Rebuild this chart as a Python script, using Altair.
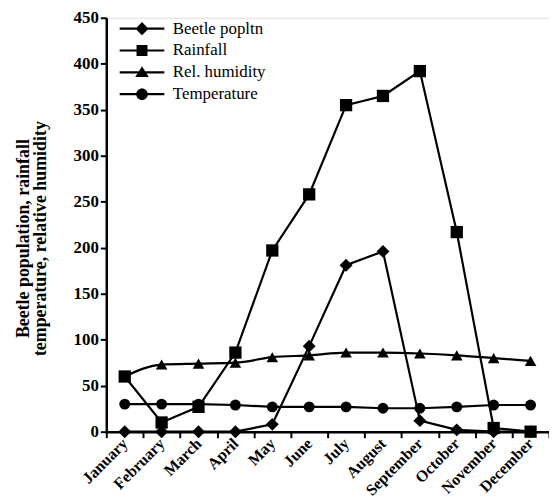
import altair as alt
import pandas as pd

months = ["January", "February", "March", "April", "May", "June", "July",
          "August", "September", "October", "November", "December"]
beetle = [0, 0, 0, 0, 8, 93, 181, 196, 12, 2, 0, 0]
rainfall = [60, 10, 27, 86, 197, 258, 355, 365, 392, 217, 4, 0]
humidity = [60, 73, 74, 75, 81, 83, 86, 86, 85, 83, 80, 77]
temperature = [30, 30, 30, 29, 27, 27, 27, 25.5, 25.5, 27, 29, 29]

series = ["Beetle popltn", "Rainfall", "Rel. humidity", "Temperature"]
values = {"Beetle popltn": beetle, "Rainfall": rainfall,
          "Rel. humidity": humidity, "Temperature": temperature}
draw_order = ["Beetle popltn", "Rel. humidity", "Temperature", "Rainfall"]

rows = []
for s in draw_order:
    for m, v in zip(months, values[s]):
        rows.append({"month": m, "value": v, "series": s})
df = pd.DataFrame(rows)

SERIF = "'Liberation Serif', 'Times New Roman', Times, serif"

x_enc = alt.X("month:N", sort=months, bandPosition=0.5,
              scale=alt.Scale(type="band", paddingInner=0, paddingOuter=0),
              axis=alt.Axis(title=None, labelAngle=-45, labelAlign="right",
                            labelBaseline="middle", labelFont=SERIF,
                            labelFontWeight="bold", labelFontSize=16,
                            labelColor="black", tickBand="extent",
                            domainColor="black", domainWidth=2.5,
                            tickColor="black", tickWidth=2, tickSize=6,
                            labelPadding=3, grid=False))
y_enc = alt.Y("value:Q", scale=alt.Scale(domain=[0, 450], nice=False, zero=True),
              axis=alt.Axis(title=["Beetle population, rainfall",
                                   "temperature, relative humidity"],
                            values=list(range(0, 451, 50)),
                            labelFont=SERIF, labelFontWeight="bold",
                            labelFontSize=17, labelColor="black",
                            titleFont=SERIF, titleFontWeight="bold",
                            titleFontSize=18, titleColor="black",
                            titleLineHeight=17, titlePadding=24,
                            titleY=222,
                            domainColor="black", domainWidth=2.5,
                            tickColor="black", tickWidth=2, tickSize=6,
                            labelPadding=2, grid=False))

base = alt.Chart(df)

lines_linear = base.transform_filter(
    alt.datum.series != "Rel. humidity"
).mark_line(color="black", strokeWidth=2.2).encode(
    x=x_enc, y=y_enc, detail="series:N")

lines_smooth = base.transform_filter(
    alt.datum.series == "Rel. humidity"
).mark_line(color="black", strokeWidth=2.2, interpolate="monotone").encode(
    x=x_enc, y=y_enc, detail="series:N")

points = base.mark_point(filled=True, color="black", opacity=1).encode(
    x=x_enc, y=y_enc,
    shape=alt.Shape("series:N", legend=None,
                    scale=alt.Scale(domain=series,
                                    range=["diamond", "square", "triangle-up", "circle"])),
    size=alt.Size("series:N", legend=None,
                  scale=alt.Scale(domain=series, range=[169, 121, 169, 113])),
)

# legend symbols: a filled bar (the line) plus the marker, both clockwise
BAR = "M-2.25,-0.11H2.25V0.11H-2.25Z"
legend_paths = [
    BAR + "M0,-0.66L0.66,0L0,0.66L-0.66,0Z",
    BAR + "M-0.55,-0.55H0.55V0.55H-0.55Z",
    BAR + "M0,-0.62L0.68,0.48H-0.68Z",
    BAR + "M0.58,0A0.58,0.58 0 1,1 -0.58,0A0.58,0.58 0 1,1 0.58,0Z",
]

legend_layer = base.transform_filter("false").mark_point(
    filled=True, color="black", opacity=1).encode(
    x=x_enc, y=y_enc,
    shape=alt.Shape("series:N",
                    scale=alt.Scale(domain=series, range=legend_paths),
                    legend=alt.Legend(title=None, orient="none",
                                      legendX=26, legendY=1,
                                      symbolSize=400, symbolFillColor="black",
                                      symbolStrokeWidth=0,
                                      labelFont=SERIF, labelFontSize=17,
                                      labelColor="black", labelOffset=21,
                                      rowPadding=4, values=series)),
)

chart = alt.layer(lines_linear, lines_smooth, points, legend_layer).resolve_scale(
    shape="independent", size="independent"
).properties(
    width=446, height=417,
    autosize=alt.AutoSizeParams(type="none"),
    padding={"left": 99, "top": 8, "right": 0, "bottom": 69},
).configure_view(stroke=None).configure(background="white", font=SERIF)

chart.save("out.html", embed_options={"renderer": "svg", "actions": False})
